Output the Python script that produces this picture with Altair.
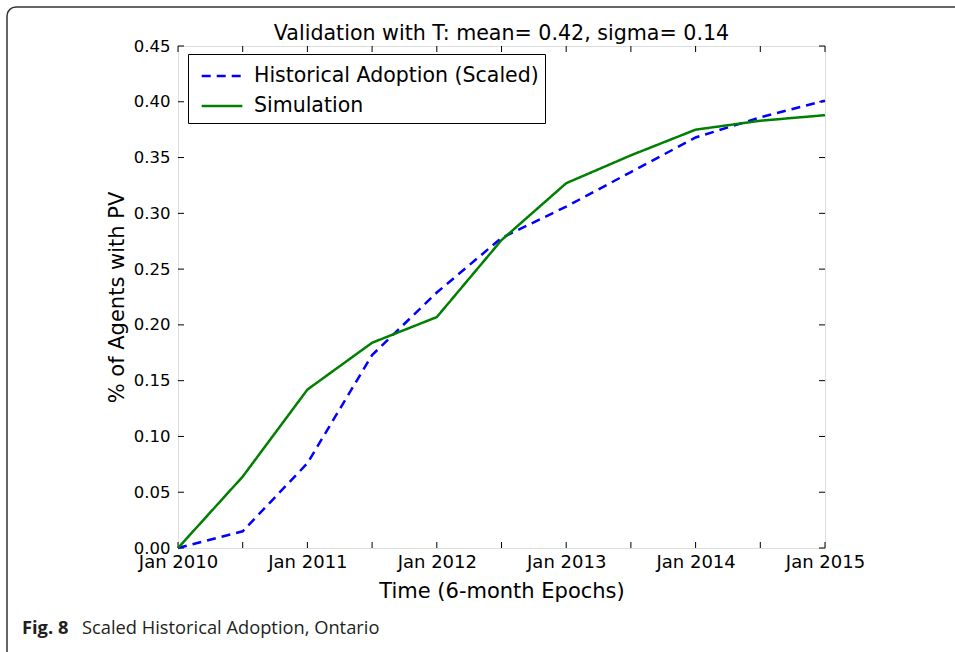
import json

import altair as alt
import pandas as pd

# Six-month epochs from Jan 2010 to Jan 2015
epochs = list(range(11))
epoch_labels = ["Jan 2010", "", "Jan 2011", "", "Jan 2012", "",
                "Jan 2013", "", "Jan 2014", "", "Jan 2015"]

# Share of agents with PV at each epoch
historical = [0.000, 0.015, 0.076, 0.173, 0.229, 0.278,
              0.306, 0.337, 0.368, 0.386, 0.401]
simulation = [0.000, 0.064, 0.142, 0.184, 0.207, 0.276,
              0.327, 0.352, 0.375, 0.383, 0.388]

series_names = ["Historical Adoption (Scaled)", "Simulation"]
series_colors = ["#0000ff", "#008000"]
series_dashes = [[9, 6], [1, 0]]

y_ticks = [0.00, 0.05, 0.10, 0.15, 0.20, 0.25, 0.30, 0.35, 0.40, 0.45]

title_text = "Validation with T: mean= 0.42, sigma= 0.14"
x_title = "Time (6-month Epochs)"
y_title = "% of Agents with PV"
caption_label = "Fig. 8"
caption_text = "Scaled Historical Adoption, Ontario"

W, H = 647, 502
FONT = "DejaVu Sans"

rows = []
for name, values in zip(series_names, [historical, simulation]):
    for e, v in zip(epochs, values):
        rows.append({"epoch": e, "share": v, "series": name})
df = pd.DataFrame(rows)

x_scale = alt.Scale(domain=[0, 10], nice=False)
y_scale = alt.Scale(domain=[0, 0.45], nice=False, zero=True)

x_enc = alt.X(
    "epoch:Q",
    scale=x_scale,
    title=x_title,
    axis=alt.Axis(
        values=epochs,
        labelExpr=f"{json.dumps(epoch_labels)}[datum.value]",
        labelOverlap=False,
        labelFlush=False,
        ticks=False,
        domain=False,
        grid=False,
        labelFont=FONT,
        labelFontSize=18,
        labelColor="black",
        labelPadding=5,
        titleFont=FONT,
        titleFontSize=21,
        titleFontWeight="normal",
        titleColor="black",
        titleBaseline="alphabetic",
        titleX=W / 2,
        titleY=49,
    ),
)
y_enc = alt.Y(
    "share:Q",
    scale=y_scale,
    title=y_title,
    axis=alt.Axis(
        values=y_ticks,
        format=".2f",
        labelOverlap=False,
        labelFlush=False,
        ticks=False,
        domain=False,
        grid=False,
        labelFont=FONT,
        labelFontSize=16.5,
        labelColor="black",
        labelPadding=8,
        titleFont=FONT,
        titleFontSize=21,
        titleFontWeight="normal",
        titleColor="black",
        titleBaseline="alphabetic",
        titleAngle=-90,
        titleX=-55,
        titleY=H / 2,
    ),
)

legend = alt.Legend(
    title=None,
    orient="none",
    legendX=10,
    legendY=8,
    symbolType="M-1.4,0H1.4",
    symbolSize=841,
    symbolStrokeWidth=2.5,
    symbolOffset=12,
    labelFont=FONT,
    labelFontSize=20.5,
    labelColor="black",
    labelOffset=16,
    labelLimit=400,
    rowPadding=3,
    padding=6,
    strokeColor="black",
    fillColor="white",
    cornerRadius=0,
)

lines = alt.Chart(df).mark_line(strokeWidth=2.5).encode(
    x=x_enc,
    y=y_enc,
    color=alt.Color(
        "series:N",
        scale=alt.Scale(domain=series_names, range=series_colors),
        legend=legend,
    ),
    strokeDash=alt.StrokeDash(
        "series:N",
        scale=alt.Scale(domain=series_names, range=series_dashes),
        legend=legend,
    ),
)

# Inward-pointing tick marks on all four sides of the frame
x_tick_df = pd.DataFrame({"epoch": epochs})
y_tick_df = pd.DataFrame({"share": y_ticks})

x_ticks_bottom = alt.Chart(x_tick_df).mark_rule(color="black", strokeWidth=1).encode(
    x=x_enc, y=alt.value(H), y2=alt.value(H - 6),
)
x_ticks_top = alt.Chart(x_tick_df).mark_rule(color="black", strokeWidth=1).encode(
    x=x_enc, y=alt.value(0), y2=alt.value(6),
)
y_ticks_left = alt.Chart(y_tick_df).mark_rule(color="black", strokeWidth=1).encode(
    y=y_enc, x=alt.value(0), x2=alt.value(6),
)
y_ticks_right = alt.Chart(y_tick_df).mark_rule(color="black", strokeWidth=1).encode(
    y=y_enc, x=alt.value(W - 6), x2=alt.value(W),
)

# Figure frame, heading and caption
one_row = alt.Data(values=[{"k": 0}])
frame = alt.Chart(one_row).mark_rect(
    fillOpacity=0, stroke="#333333", strokeWidth=1.5, cornerRadius=9
).encode(
    x=alt.value(-171), y=alt.value(-39), x2=alt.value(830), y2=alt.value(640)
)
heading = alt.Chart(one_row).mark_text(
    text=title_text, font=FONT, fontSize=20.6, color="black",
    align="center", baseline="alphabetic",
).encode(x=alt.value(W / 2), y=alt.value(-6))
caption_bold = alt.Chart(one_row).mark_text(
    text=caption_label, font="Open Sans", fontSize=18.3, fontWeight="bold",
    align="left", baseline="alphabetic", color="#231f20",
).encode(x=alt.value(-156), y=alt.value(588))
caption_rest = alt.Chart(one_row).mark_text(
    text=caption_text, font="Open Sans", fontSize=18.3, fontWeight="normal",
    align="left", baseline="alphabetic", color="#231f20",
).encode(x=alt.value(-96), y=alt.value(588))

chart = alt.layer(
    frame, heading, caption_bold, caption_rest,
    x_ticks_bottom, x_ticks_top, y_ticks_left, y_ticks_right,
    lines,
).properties(
    width=W,
    height=H,
    autosize=alt.AutoSizeParams(type="none"),
    padding={"left": 178, "top": 46, "right": 130, "bottom": 104},
).configure_view(
    stroke="#222222", strokeWidth=1.3
).configure(background="white")

chart.save("out.html", embed_options={"renderer": "svg", "actions": False})
